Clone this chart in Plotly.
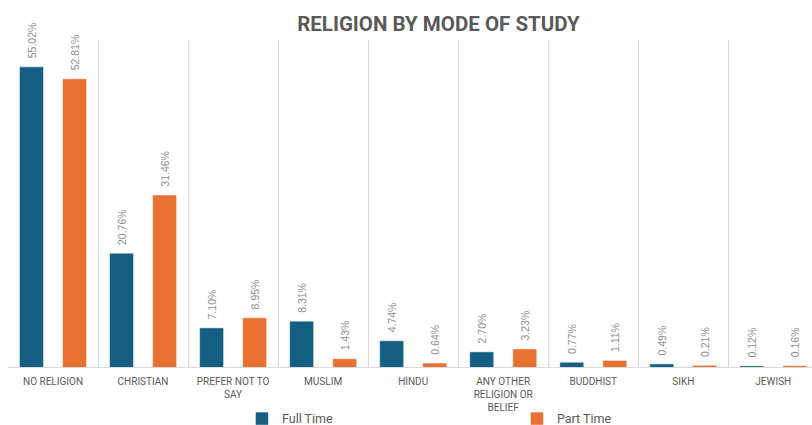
import plotly.graph_objects as go

# Religion by mode of study (percent of students)
categories = [
    "NO RELIGION", "CHRISTIAN", "PREFER NOT TO<br>SAY", "MUSLIM", "HINDU",
    "ANY OTHER<br>RELIGION OR<br>BELIEF", "BUDDHIST", "SIKH", "JEWISH",
]
full_time = [55.02, 20.76, 7.10, 8.31, 4.74, 2.70, 0.77, 0.49, 0.12]
part_time = [52.81, 31.46, 8.95, 1.43, 0.64, 3.23, 1.11, 0.21, 0.16]

BLUE = "#156082"
ORANGE = "#E97132"
GREY = "#595959"

fig = go.Figure()
for name, vals, col in [("Full Time", full_time, BLUE), ("Part Time", part_time, ORANGE)]:
    fig.add_trace(go.Bar(
        name=name, x=categories, y=vals,
        marker=dict(color=col, line=dict(color=col, width=0.5)),
        # non-breaking spaces push the rotated label a little off the bar top
        text=["\u00a0\u00a0" + f"{v:.2f}%" for v in vals],
        textposition="outside", textangle=-90,
        textfont=dict(size=10.5, color="#8C8C8C", family="Liberation Sans"),
        constraintext="none", cliponaxis=False,
    ))

fig.update_layout(
    width=812, height=425,
    margin=dict(l=8, r=0, t=40, b=58, autoexpand=False),
    paper_bgcolor="white", plot_bgcolor="white",
    barmode="group", bargap=0.044, bargroupgap=0.465,
    title=dict(text="<b>RELIGION BY MODE OF STUDY</b>", x=0.54, xanchor="center",
               y=0.945, yanchor="middle",
               font=dict(size=20.5, color=GREY, family="Roboto")),
    font=dict(family="Roboto", color=GREY),
    xaxis=dict(
        range=[-0.5, 8.43], tickson="boundaries", showgrid=True,
        gridcolor="#D9D9D9", gridwidth=1, ticks="", automargin=False,
        showline=True, linecolor="#D9D9D9", linewidth=1,
        ticklabelstandoff=5,
        tickfont=dict(size=10, color=GREY, family="Roboto"),
    ),
    yaxis=dict(range=[0, 60], visible=False),
    legend=dict(
        orientation="h", x=0.291, xanchor="left", y=-0.159, yanchor="middle",
        entrywidth=230, entrywidthmode="pixels", bgcolor="rgba(0,0,0,0)",
        font=dict(size=12.5, color=GREY, family="Roboto"),
    ),
    showlegend=True,
)

# drop the default 8px page margin so the figure sits at the window origin
fig.write_html("out.html", config={"displayModeBar": False},
               post_script="document.body.style.margin='0';")
